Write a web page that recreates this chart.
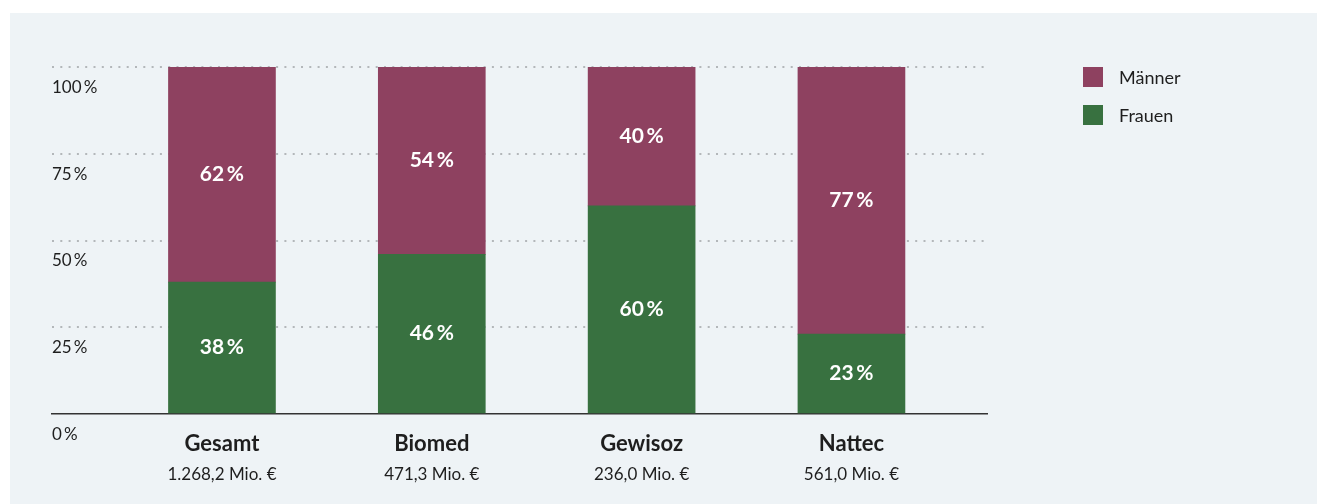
<!DOCTYPE html>
<html lang="de">
<head>
<meta charset="utf-8">
<title>Anteil Frauen / Männer</title>
<script src="https://cdn.jsdelivr.net/npm/chart.js@4.4.1/dist/chart.umd.min.js"></script>
<style>
  html, body { margin: 0; padding: 0; background: #ffffff; }
  #panel {
    position: absolute; left: 10px; top: 13px;
    width: 1307px; height: 491px;
    background: #eef3f6;
  }
  #legend {
    position: absolute; left: 1083px; top: 67px;
    font-family: Lato, sans-serif; font-size: 18px; color: #1e1e1e;
  }
  .lg-item { display: flex; align-items: center; height: 20px; margin-bottom: 18px; }
  .lg-box { width: 20px; height: 20px; margin-right: 16px; }
</style>
</head>
<body>
<div id="panel"><canvas id="chart"></canvas></div>
<div id="legend"></div>
<script>
// Daten
const categories = ['Gesamt', 'Biomed', 'Gewisoz', 'Nattec'];
const amounts = ['1.268,2 Mio. €', '471,3 Mio. €', '236,0 Mio. €', '561,0 Mio. €'];
const frauen = [38, 46, 60, 23];
const maenner = [62, 54, 40, 77];
const yTicks = [0, 25, 50, 75, 100];

const COL_M = '#8e4160';
const COL_F = '#387140';
const FONT = 'Lato, sans-serif';

// Werte als Balkenbeschriftung mittig im Segment
const barLabels = {
    id: 'barLabels',
    afterDatasetsDraw(chart) {
        const ctx = chart.ctx;
        ctx.save();
        ctx.fillStyle = '#ffffff';
        ctx.font = `bold 21px ${FONT}`;
        ctx.textAlign = 'center';
        ctx.textBaseline = 'middle';
        chart.data.datasets.forEach((ds, di) => {
            const meta = chart.getDatasetMeta(di);
            meta.data.forEach((el, i) => {
                const p = el.getProps(['x', 'y', 'base'], true);
                ctx.fillText(ds.data[i].y + '\u2009%', p.x, (p.y + p.base) / 2);
            });
        });
        ctx.restore();
    }
};

// zweite Zeile unter den Kategorien (Mio. €)
const amountLabels = {
    id: 'amountLabels',
    afterDraw(chart) {
        const ctx = chart.ctx;
        const xs = chart.scales.x;
        ctx.save();
        ctx.fillStyle = '#1e1e1e';
        ctx.font = `17px ${FONT}`;
        ctx.textAlign = 'center';
        ctx.textBaseline = 'middle';
        amounts.forEach((a, i) => {
            ctx.fillText(a, xs.getPixelForValue(i), chart.chartArea.bottom + 61);
        });
        ctx.restore();
    }
};

const chart = new window.Chart(document.getElementById('chart').getContext('2d'), {
    type: 'bar',
    data: {
        datasets: [
            {
                label: 'Frauen',
                data: frauen.map((v, i) => ({ x: i, y: v })),
                backgroundColor: COL_F,
                barThickness: 107,
                borderWidth: 0
            },
            {
                label: 'Männer',
                data: maenner.map((v, i) => ({ x: i, y: v })),
                backgroundColor: COL_M,
                barThickness: 107,
                borderWidth: 0
            }
        ]
    },
    options: {
        responsive: true,
        maintainAspectRatio: false,
        animation: false,
        layout: { padding: { left: 42, top: 54, right: 330, bottom: 0 } },
        plugins: { legend: { display: false }, tooltip: { enabled: false } },
        scales: {
            x: {
                type: 'linear',
                stacked: true,
                min: -0.81,
                max: 3.646,
                offset: false,
                grid: { display: false },
                border: { display: true, color: '#333333', width: 1.5 },
                afterBuildTicks: (s) => { s.ticks = categories.map((c, i) => ({ value: i })); },
                afterFit: (s) => { s.height = 90; },
                ticks: {
                    autoSkip: false,
                    maxRotation: 0,
                    padding: 9,
                    color: '#1e1e1e',
                    font: { family: FONT, size: 22, weight: 'bold' },
                    callback: (v) => categories[v]
                }
            },
            y: {
                stacked: true,
                min: 0,
                max: 100,
                afterBuildTicks: (s) => { s.ticks = yTicks.map(v => ({ value: v })); },
                afterFit: (s) => { s.width = 0; },
                grid: {
                    drawTicks: false,
                    lineWidth: 2,
                    color: (c) => c.tick && c.tick.value === 0 ? 'rgba(0,0,0,0)' : '#b3b7ba'
                },
                border: { display: false, dash: [2, 6.3] },
                ticks: {
                    mirror: true,
                    padding: 0,
                    labelOffset: 20.5,
                    color: '#1e1e1e',
                    font: { family: FONT, size: 17 },
                    callback: (v) => v + '\u2009%'
                }
            }
        }
    },
    plugins: [barLabels, amountLabels]
});

// Legende (Männer oben, Frauen unten)
const legend = document.getElementById('legend');
chart.data.datasets.slice().reverse().forEach(ds => {
    const item = document.createElement('div');
    item.className = 'lg-item';
    item.innerHTML = `<span class="lg-box" style="background:${ds.backgroundColor}"></span><span>${ds.label}</span>`;
    legend.appendChild(item);
});
</script>
</body>
</html>
